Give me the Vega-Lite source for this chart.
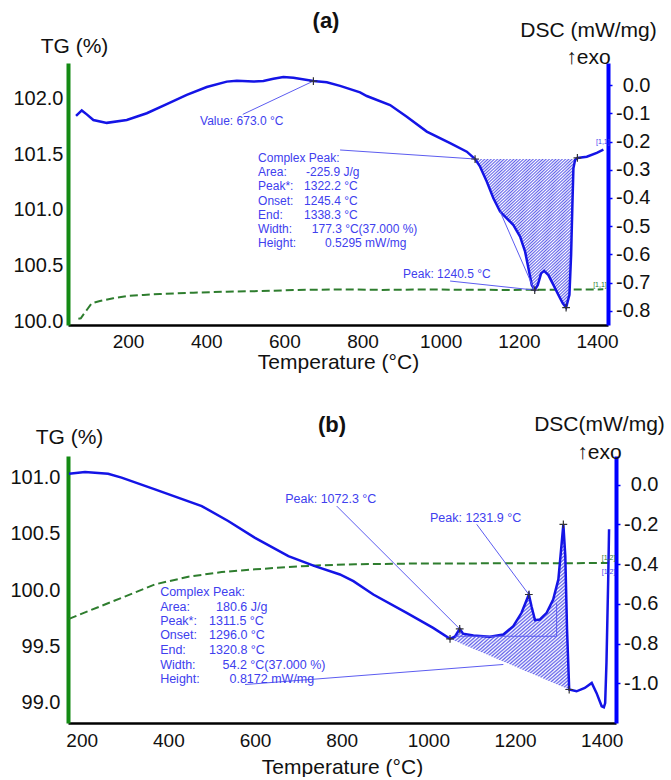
{
  "$schema": "https://vega.github.io/schema/vega-lite/v6.json",
  "padding": {"left": 9, "top": 10, "right": 0, "bottom": 0},
  "config": {"font": "Liberation Sans", "view": {"stroke": null}, "axis": {"grid": false}},
  "spacing": 41,
  "datasets": {
    "tgA": [
      {"T": 72.8, "v": 100.02}, {"T": 79, "v": 100.024}, {"T": 86, "v": 100.06}, {"T": 94.3, "v": 100.099}, {"T": 107, "v": 100.16},
      {"T": 128, "v": 100.18}, {"T": 162, "v": 100.205}, {"T": 196.7, "v": 100.225}, {"T": 240, "v": 100.235}, {"T": 281.9, "v": 100.243},
      {"T": 367.1, "v": 100.255}, {"T": 452.6, "v": 100.264}, {"T": 540, "v": 100.27}, {"T": 623, "v": 100.279}, {"T": 750.9, "v": 100.285},
      {"T": 850, "v": 100.28}, {"T": 950, "v": 100.284}, {"T": 1050, "v": 100.282}, {"T": 1150, "v": 100.28}, {"T": 1250, "v": 100.281},
      {"T": 1350, "v": 100.283}, {"T": 1416, "v": 100.285}
    ],
    "dscA": [
      {"T": 66.9, "v": -0.109}, {"T": 81.5, "v": -0.09}, {"T": 94.3, "v": -0.104}, {"T": 111.2, "v": -0.124}, {"T": 145.5, "v": -0.134},
      {"T": 196.7, "v": -0.124}, {"T": 247.9, "v": -0.1}, {"T": 299, "v": -0.068}, {"T": 350.2, "v": -0.035}, {"T": 401.4, "v": -0.007},
      {"T": 452.6, "v": 0.012}, {"T": 478.2, "v": 0.015}, {"T": 520.6, "v": 0.012}, {"T": 546.2, "v": 0.014}, {"T": 571.8, "v": 0.022},
      {"T": 597.4, "v": 0.028}, {"T": 623, "v": 0.026}, {"T": 674.2, "v": 0.014}, {"T": 708.5, "v": 0.01}, {"T": 742.5, "v": -0.003},
      {"T": 793.6, "v": -0.026}, {"T": 810.8, "v": -0.039}, {"T": 870.4, "v": -0.071}, {"T": 913.2, "v": -0.112}, {"T": 964.3, "v": -0.165},
      {"T": 1024, "v": -0.206}, {"T": 1066.7, "v": -0.236}, {"T": 1087.9, "v": -0.262}, {"T": 1100.7, "v": -0.289}, {"T": 1117.8, "v": -0.342},
      {"T": 1134.8, "v": -0.401}, {"T": 1151.9, "v": -0.448}, {"T": 1169, "v": -0.472}, {"T": 1186, "v": -0.496}, {"T": 1203.1, "v": -0.537},
      {"T": 1215.9, "v": -0.59}, {"T": 1224.4, "v": -0.649}, {"T": 1233, "v": -0.708}, {"T": 1240.5, "v": -0.726}, {"T": 1248.4, "v": -0.708},
      {"T": 1256.8, "v": -0.667}, {"T": 1264.5, "v": -0.658}, {"T": 1275.5, "v": -0.673}, {"T": 1288.3, "v": -0.708}, {"T": 1301.1, "v": -0.743},
      {"T": 1312.3, "v": -0.773}, {"T": 1320.8, "v": -0.788}, {"T": 1329.3, "v": -0.743}, {"T": 1333.6, "v": -0.602}, {"T": 1336.9, "v": -0.425},
      {"T": 1339.5, "v": -0.295}, {"T": 1343.8, "v": -0.265}, {"T": 1349.7, "v": -0.258}, {"T": 1373.7, "v": -0.254}, {"T": 1399.3, "v": -0.24},
      {"T": 1416.2, "v": -0.229}
    ],
    "hatchA": [
      {"T": 1087.9, "v": -0.262}, {"T": 1100.7, "v": -0.289}, {"T": 1117.8, "v": -0.342}, {"T": 1134.8, "v": -0.401}, {"T": 1151.9, "v": -0.448},
      {"T": 1169, "v": -0.472}, {"T": 1186, "v": -0.496}, {"T": 1203.1, "v": -0.537}, {"T": 1215.9, "v": -0.59}, {"T": 1224.4, "v": -0.649},
      {"T": 1233, "v": -0.708}, {"T": 1240.5, "v": -0.726}, {"T": 1248.4, "v": -0.708}, {"T": 1256.8, "v": -0.667}, {"T": 1264.5, "v": -0.658},
      {"T": 1275.5, "v": -0.673}, {"T": 1288.3, "v": -0.708}, {"T": 1301.1, "v": -0.743}, {"T": 1312.3, "v": -0.773}, {"T": 1320.8, "v": -0.788},
      {"T": 1329.3, "v": -0.743}, {"T": 1333.6, "v": -0.602}, {"T": 1336.9, "v": -0.425}, {"T": 1339.5, "v": -0.295}, {"T": 1343.8, "v": -0.265}
    ],
    "connA": [
      {"T": 493.5, "v": -0.104, "T2": 674.2, "v2": 0.014},
      {"T": 742.5, "v": -0.23, "T2": 1087.9, "v2": -0.262},
      {"T": 1151.9, "v": -0.448, "T2": 1239.7, "v2": -0.726},
      {"T": 1024, "v": -0.694, "T2": 1240.5, "v2": -0.726}
    ],
    "markA": [
      {"T": 674.2, "v": 0.014}, {"T": 1087.9, "v": -0.262}, {"T": 1349.7, "v": -0.258}, {"T": 1240.5, "v": -0.726}, {"T": 1320.8, "v": -0.788}
    ],
    "textA": [
      {"T": 384.2, "v": -0.126, "label": "Value: 673.0 °C"},
      {"T": 903.7, "v": -0.669, "label": "Peak: 1240.5 °C"},
      {"T": 532.7, "v": -0.2595, "label": "Complex Peak:"},
      {"T": 532.7, "v": -0.309, "label": "Area:"},
      {"T": 655.5, "v": -0.309, "label": "-225.9 J/g"},
      {"T": 532.7, "v": -0.3575, "label": "Peak*:"},
      {"T": 650.4, "v": -0.3575, "label": "1322.2 °C"},
      {"T": 532.7, "v": -0.4096, "label": "Onset:"},
      {"T": 650.4, "v": -0.4096, "label": "1245.4 °C"},
      {"T": 532.7, "v": -0.46, "label": "End:"},
      {"T": 650.4, "v": -0.46, "label": "1338.3 °C"},
      {"T": 532.7, "v": -0.5097, "label": "Width:"},
      {"T": 670.1, "v": -0.5097, "label": "177.3 °C(37.000 %)"},
      {"T": 532.7, "v": -0.5604, "label": "Height:"},
      {"T": 704.1, "v": -0.5604, "label": "0.5295 mW/mg"}
    ],
    "tagA": [
      {"T": 1397.5, "v": -0.202, "label": "[1,1]", "s": "dsc"},
      {"T": 1390, "v": -0.708, "label": "[1,1]", "s": "tg"}
    ],
    "tgB": [
      {"T": 170.7, "v": 99.743}, {"T": 215, "v": 99.812}, {"T": 292, "v": 99.93}, {"T": 369, "v": 100.05}, {"T": 446, "v": 100.118},
      {"T": 523, "v": 100.16}, {"T": 600, "v": 100.184}, {"T": 677, "v": 100.205}, {"T": 754, "v": 100.22}, {"T": 831, "v": 100.229},
      {"T": 950, "v": 100.235}, {"T": 1100, "v": 100.237}, {"T": 1250, "v": 100.238}, {"T": 1419, "v": 100.24}
    ],
    "dscB": [
      {"T": 170.7, "v": 0.055}, {"T": 207.7, "v": 0.063}, {"T": 261, "v": 0.055}, {"T": 292, "v": 0.035}, {"T": 369, "v": -0.024},
      {"T": 477, "v": -0.108}, {"T": 538, "v": -0.183}, {"T": 600, "v": -0.268}, {"T": 677, "v": -0.36}, {"T": 738, "v": -0.41},
      {"T": 796, "v": -0.452}, {"T": 827, "v": -0.486}, {"T": 873, "v": -0.553}, {"T": 950, "v": -0.645}, {"T": 1011, "v": -0.721},
      {"T": 1050, "v": -0.776}, {"T": 1062, "v": -0.763}, {"T": 1072.3, "v": -0.726}, {"T": 1080, "v": -0.75}, {"T": 1104, "v": -0.759},
      {"T": 1142, "v": -0.766}, {"T": 1173, "v": -0.754}, {"T": 1196, "v": -0.712}, {"T": 1215, "v": -0.645}, {"T": 1231.9, "v": -0.553},
      {"T": 1238, "v": -0.612}, {"T": 1246, "v": -0.682}, {"T": 1257, "v": -0.679}, {"T": 1273, "v": -0.645}, {"T": 1288, "v": -0.578},
      {"T": 1300, "v": -0.477}, {"T": 1307, "v": -0.309}, {"T": 1311.5, "v": -0.2}, {"T": 1316, "v": -0.36}, {"T": 1320, "v": -0.728},
      {"T": 1325, "v": -1.031}, {"T": 1342, "v": -1.04}, {"T": 1361, "v": -1.023}, {"T": 1377, "v": -0.998}, {"T": 1388, "v": -1.048},
      {"T": 1400, "v": -1.115}, {"T": 1405, "v": -1.12}, {"T": 1408, "v": -1.099}, {"T": 1411, "v": -0.897}, {"T": 1415, "v": -0.477},
      {"T": 1417, "v": -0.225}
    ],
    "hatchB": [
      {"T": 1050, "v": -0.776, "base": -0.776}, {"T": 1062, "v": -0.763, "base": -0.787}, {"T": 1072.3, "v": -0.726, "base": -0.797},
      {"T": 1080, "v": -0.75, "base": -0.804}, {"T": 1104, "v": -0.759, "base": -0.826}, {"T": 1142, "v": -0.766, "base": -0.861},
      {"T": 1173, "v": -0.754, "base": -0.89}, {"T": 1196, "v": -0.712, "base": -0.911}, {"T": 1215, "v": -0.645, "base": -0.929},
      {"T": 1231.9, "v": -0.553, "base": -0.945}, {"T": 1238, "v": -0.612, "base": -0.95}, {"T": 1246, "v": -0.682, "base": -0.958},
      {"T": 1257, "v": -0.679, "base": -0.968}, {"T": 1273, "v": -0.645, "base": -0.983}, {"T": 1288, "v": -0.578, "base": -0.997},
      {"T": 1300, "v": -0.477, "base": -1.008}, {"T": 1307, "v": -0.309, "base": -1.014}, {"T": 1311.5, "v": -0.2, "base": -1.018},
      {"T": 1316, "v": -0.36, "base": -1.023}, {"T": 1320, "v": -0.728, "base": -1.026}, {"T": 1325, "v": -1.031, "base": -1.031}
    ],
    "connB": [
      {"T": 788.5, "v": -0.108, "T2": 1072.3, "v2": -0.726},
      {"T": 1111.6, "v": -0.2, "T2": 1231.9, "v2": -0.553},
      {"T": 577, "v": -1.006, "T2": 1173, "v2": -0.905},
      {"T": 1062, "v": -0.763, "T2": 1296, "v2": -0.763},
      {"T": 1296, "v": -0.763, "T2": 1296, "v2": -0.595}
    ],
    "markB": [
      {"T": 1050, "v": -0.776}, {"T": 1072.3, "v": -0.726}, {"T": 1231.9, "v": -0.553}, {"T": 1311.5, "v": -0.2}, {"T": 1325, "v": -1.031}
    ],
    "textB": [
      {"T": 669.6, "v": -0.074, "label": "Peak: 1072.3 °C"},
      {"T": 1003.8, "v": -0.167, "label": "Peak: 1231.9 °C"},
      {"T": 381, "v": -0.5395, "label": "Complex Peak:"},
      {"T": 381, "v": -0.6166, "label": "Area:"},
      {"T": 510, "v": -0.6166, "label": "180.6 J/g"},
      {"T": 381, "v": -0.6872, "label": "Peak*:"},
      {"T": 494, "v": -0.6872, "label": "1311.5 °C"},
      {"T": 381, "v": -0.7592, "label": "Onset:"},
      {"T": 494, "v": -0.7592, "label": "1296.0 °C"},
      {"T": 381, "v": -0.8333, "label": "End:"},
      {"T": 494, "v": -0.8333, "label": "1320.8 °C"},
      {"T": 381, "v": -0.9088, "label": "Width:"},
      {"T": 525, "v": -0.9088, "label": "54.2 °C(37.000 %)"},
      {"T": 381, "v": -0.9778, "label": "Height:"},
      {"T": 541, "v": -0.9778, "label": "0.8172 mW/mg"}
    ],
    "tagB": [
      {"T": 1400, "v": -0.368, "label": "[1,2]", "s": "tg"},
      {"T": 1400, "v": -0.44, "label": "[1,2]", "s": "dsc"}
    ]
  },
  "vconcat": [
    {
      "width": 540,
      "height": 262,
      "title": {"text": "(a)", "frame": "group", "anchor": "middle", "fontSize": 22, "fontWeight": "bold", "dx": -12, "offset": -14, "color": "#111111"},
      "encoding": {
        "x": {"field": "T", "type": "quantitative", "scale": {"domain": [46.3, 1428], "nice": false, "zero": false},
          "axis": {"values": [200, 400, 600, 800, 1000, 1200, 1400], "format": "d", "title": "Temperature (°C)", "domainColor": "#000000", "domainWidth": 2.5, "ticks": false,
            "labelFontSize": 19, "labelColor": "#111111", "labelPadding": 7, "titleFontSize": 21, "titleFontWeight": "normal", "titleColor": "#111111", "titlePadding": 0}}
      },
      "layer": [
        {
          "data": {"name": "tgA"},
          "mark": {"type": "line", "color": "#2e7d2e", "strokeWidth": 2, "strokeDash": [8, 4]},
          "encoding": {
            "y": {"field": "v", "type": "quantitative", "scale": {"domain": [99.964, 102.324], "nice": false, "zero": false},
              "axis": {"orient": "left", "values": [100, 100.5, 101, 101.5, 102], "format": ".1f", "domainColor": "#138a13", "domainWidth": 4, "ticks": false,
                "labelPadding": 5, "labelFontSize": 20, "labelColor": "#111111", "title": "TG (%)", "titleAngle": 0, "titleAlign": "center", "titleBaseline": "top",
                "titleX": 6, "titleY": -28, "titleFontSize": 21, "titleFontWeight": "normal", "titleColor": "#111111"}}
          }
        },
        {
          "encoding": {
            "y": {"field": "v", "type": "quantitative", "scale": {"domain": [-0.8496, 0.0779], "nice": false, "zero": false},
              "axis": {"orient": "right", "values": [0, -0.1, -0.2, -0.3, -0.4, -0.5, -0.6, -0.7, -0.8], "labelExpr": "(datum.value < -0.0001 ? '-' : '') + format(abs(datum.value), '.1f')",
                "domainColor": "#0000ff", "domainWidth": 4, "ticks": true, "tickColor": "#0000ff", "tickSize": 4, "tickWidth": 1.5, "labelAlign": "right", "labelPadding": 38, "labelFontSize": 20, "labelColor": "#111111",
                "title": ["DSC (mW/mg)", "↑exo"], "titleAngle": 0, "titleAlign": "center", "titleBaseline": "top", "titleX": -20, "titleY": -44, "titleLineHeight": 27,
                "titleFontSize": 21, "titleFontWeight": "normal", "titleColor": "#111111"}}
          },
          "layer": [
            {
              "data": {"name": "hatchA"},
              "mark": {"type": "area", "opacity": 1, "color": {"gradient": "linear", "x1": 0, "y1": 0, "x2": 0.735, "y2": 1.167, "stops": [
                {"offset": 0, "color": "#6262ea"}, {"offset": 0.00625, "color": "#ffffff"}, {"offset": 0.0125, "color": "#6262ea"}, {"offset": 0.01875, "color": "#ffffff"},
                {"offset": 0.025, "color": "#6262ea"}, {"offset": 0.03125, "color": "#ffffff"}, {"offset": 0.0375, "color": "#6262ea"}, {"offset": 0.04375, "color": "#ffffff"},
                {"offset": 0.05, "color": "#6262ea"}, {"offset": 0.05625, "color": "#ffffff"}, {"offset": 0.0625, "color": "#6262ea"}, {"offset": 0.06875, "color": "#ffffff"},
                {"offset": 0.075, "color": "#6262ea"}, {"offset": 0.08125, "color": "#ffffff"}, {"offset": 0.0875, "color": "#6262ea"}, {"offset": 0.09375, "color": "#ffffff"},
                {"offset": 0.1, "color": "#6262ea"}, {"offset": 0.10625, "color": "#ffffff"}, {"offset": 0.1125, "color": "#6262ea"}, {"offset": 0.11875, "color": "#ffffff"},
                {"offset": 0.125, "color": "#6262ea"}, {"offset": 0.13125, "color": "#ffffff"}, {"offset": 0.1375, "color": "#6262ea"}, {"offset": 0.14375, "color": "#ffffff"},
                {"offset": 0.15, "color": "#6262ea"}, {"offset": 0.15625, "color": "#ffffff"}, {"offset": 0.1625, "color": "#6262ea"}, {"offset": 0.16875, "color": "#ffffff"},
                {"offset": 0.175, "color": "#6262ea"}, {"offset": 0.18125, "color": "#ffffff"}, {"offset": 0.1875, "color": "#6262ea"}, {"offset": 0.19375, "color": "#ffffff"},
                {"offset": 0.2, "color": "#6262ea"}, {"offset": 0.20625, "color": "#ffffff"}, {"offset": 0.2125, "color": "#6262ea"}, {"offset": 0.21875, "color": "#ffffff"},
                {"offset": 0.225, "color": "#6262ea"}, {"offset": 0.23125, "color": "#ffffff"}, {"offset": 0.2375, "color": "#6262ea"}, {"offset": 0.24375, "color": "#ffffff"},
                {"offset": 0.25, "color": "#6262ea"}, {"offset": 0.25625, "color": "#ffffff"}, {"offset": 0.2625, "color": "#6262ea"}, {"offset": 0.26875, "color": "#ffffff"},
                {"offset": 0.275, "color": "#6262ea"}, {"offset": 0.28125, "color": "#ffffff"}, {"offset": 0.2875, "color": "#6262ea"}, {"offset": 0.29375, "color": "#ffffff"},
                {"offset": 0.3, "color": "#6262ea"}, {"offset": 0.30625, "color": "#ffffff"}, {"offset": 0.3125, "color": "#6262ea"}, {"offset": 0.31875, "color": "#ffffff"},
                {"offset": 0.325, "color": "#6262ea"}, {"offset": 0.33125, "color": "#ffffff"}, {"offset": 0.3375, "color": "#6262ea"}, {"offset": 0.34375, "color": "#ffffff"},
                {"offset": 0.35, "color": "#6262ea"}, {"offset": 0.35625, "color": "#ffffff"}, {"offset": 0.3625, "color": "#6262ea"}, {"offset": 0.36875, "color": "#ffffff"},
                {"offset": 0.375, "color": "#6262ea"}, {"offset": 0.38125, "color": "#ffffff"}, {"offset": 0.3875, "color": "#6262ea"}, {"offset": 0.39375, "color": "#ffffff"},
                {"offset": 0.4, "color": "#6262ea"}, {"offset": 0.40625, "color": "#ffffff"}, {"offset": 0.4125, "color": "#6262ea"}, {"offset": 0.41875, "color": "#ffffff"},
                {"offset": 0.425, "color": "#6262ea"}, {"offset": 0.43125, "color": "#ffffff"}, {"offset": 0.4375, "color": "#6262ea"}, {"offset": 0.44375, "color": "#ffffff"},
                {"offset": 0.45, "color": "#6262ea"}, {"offset": 0.45625, "color": "#ffffff"}, {"offset": 0.4625, "color": "#6262ea"}, {"offset": 0.46875, "color": "#ffffff"},
                {"offset": 0.475, "color": "#6262ea"}, {"offset": 0.48125, "color": "#ffffff"}, {"offset": 0.4875, "color": "#6262ea"}, {"offset": 0.49375, "color": "#ffffff"},
                {"offset": 0.5, "color": "#6262ea"}, {"offset": 0.50625, "color": "#ffffff"}, {"offset": 0.5125, "color": "#6262ea"}, {"offset": 0.51875, "color": "#ffffff"},
                {"offset": 0.525, "color": "#6262ea"}, {"offset": 0.53125, "color": "#ffffff"}, {"offset": 0.5375, "color": "#6262ea"}, {"offset": 0.54375, "color": "#ffffff"},
                {"offset": 0.55, "color": "#6262ea"}, {"offset": 0.55625, "color": "#ffffff"}, {"offset": 0.5625, "color": "#6262ea"}, {"offset": 0.56875, "color": "#ffffff"},
                {"offset": 0.575, "color": "#6262ea"}, {"offset": 0.58125, "color": "#ffffff"}, {"offset": 0.5875, "color": "#6262ea"}, {"offset": 0.59375, "color": "#ffffff"},
                {"offset": 0.6, "color": "#6262ea"}, {"offset": 0.60625, "color": "#ffffff"}, {"offset": 0.6125, "color": "#6262ea"}, {"offset": 0.61875, "color": "#ffffff"},
                {"offset": 0.625, "color": "#6262ea"}, {"offset": 0.63125, "color": "#ffffff"}, {"offset": 0.6375, "color": "#6262ea"}, {"offset": 0.64375, "color": "#ffffff"},
                {"offset": 0.65, "color": "#6262ea"}, {"offset": 0.65625, "color": "#ffffff"}, {"offset": 0.6625, "color": "#6262ea"}, {"offset": 0.66875, "color": "#ffffff"},
                {"offset": 0.675, "color": "#6262ea"}, {"offset": 0.68125, "color": "#ffffff"}, {"offset": 0.6875, "color": "#6262ea"}, {"offset": 0.69375, "color": "#ffffff"},
                {"offset": 0.7, "color": "#6262ea"}, {"offset": 0.70625, "color": "#ffffff"}, {"offset": 0.7125, "color": "#6262ea"}, {"offset": 0.71875, "color": "#ffffff"},
                {"offset": 0.725, "color": "#6262ea"}, {"offset": 0.73125, "color": "#ffffff"}, {"offset": 0.7375, "color": "#6262ea"}, {"offset": 0.74375, "color": "#ffffff"},
                {"offset": 0.75, "color": "#6262ea"}, {"offset": 0.75625, "color": "#ffffff"}, {"offset": 0.7625, "color": "#6262ea"}, {"offset": 0.76875, "color": "#ffffff"},
                {"offset": 0.775, "color": "#6262ea"}, {"offset": 0.78125, "color": "#ffffff"}, {"offset": 0.7875, "color": "#6262ea"}, {"offset": 0.79375, "color": "#ffffff"},
                {"offset": 0.8, "color": "#6262ea"}, {"offset": 0.80625, "color": "#ffffff"}, {"offset": 0.8125, "color": "#6262ea"}, {"offset": 0.81875, "color": "#ffffff"},
                {"offset": 0.825, "color": "#6262ea"}, {"offset": 0.83125, "color": "#ffffff"}, {"offset": 0.8375, "color": "#6262ea"}, {"offset": 0.84375, "color": "#ffffff"},
                {"offset": 0.85, "color": "#6262ea"}, {"offset": 0.85625, "color": "#ffffff"}, {"offset": 0.8625, "color": "#6262ea"}, {"offset": 0.86875, "color": "#ffffff"},
                {"offset": 0.875, "color": "#6262ea"}, {"offset": 0.88125, "color": "#ffffff"}, {"offset": 0.8875, "color": "#6262ea"}, {"offset": 0.89375, "color": "#ffffff"},
                {"offset": 0.9, "color": "#6262ea"}, {"offset": 0.90625, "color": "#ffffff"}, {"offset": 0.9125, "color": "#6262ea"}, {"offset": 0.91875, "color": "#ffffff"},
                {"offset": 0.925, "color": "#6262ea"}, {"offset": 0.93125, "color": "#ffffff"}, {"offset": 0.9375, "color": "#6262ea"}, {"offset": 0.94375, "color": "#ffffff"},
                {"offset": 0.95, "color": "#6262ea"}, {"offset": 0.95625, "color": "#ffffff"}, {"offset": 0.9625, "color": "#6262ea"}, {"offset": 0.96875, "color": "#ffffff"},
                {"offset": 0.975, "color": "#6262ea"}, {"offset": 0.98125, "color": "#ffffff"}, {"offset": 0.9875, "color": "#6262ea"}, {"offset": 0.99375, "color": "#ffffff"},
                {"offset": 1, "color": "#6262ea"}
              ]}},
              "encoding": {"y2": {"datum": -0.262}}
            },
            {
              "data": {"name": "dscA"},
              "mark": {"type": "line", "color": "#1414e6", "strokeWidth": 2.5}
            },
            {
              "data": {"name": "connA"},
              "mark": {"type": "rule", "color": "#5c5cf0", "strokeWidth": 1},
              "encoding": {"x2": {"field": "T2"}, "y2": {"field": "v2"}}
            },
            {
              "data": {"name": "markA"},
              "mark": {"type": "point", "shape": "M-1,0H1M0,-1V1", "size": 60, "filled": false, "stroke": "#333333", "strokeWidth": 1.2, "opacity": 1}
            },
            {
              "data": {"name": "textA"},
              "mark": {"type": "text", "align": "left", "baseline": "middle", "fontSize": 12, "color": "#4040ee"},
              "encoding": {"text": {"field": "label"}}
            },
            {
              "data": {"name": "tagA"},
              "mark": {"type": "text", "align": "left", "baseline": "middle", "fontSize": 7},
              "encoding": {
                "text": {"field": "label"},
                "color": {"field": "s", "type": "nominal", "scale": {"domain": ["dsc", "tg"], "range": ["#4040ee", "#2e7d2e"]}, "legend": null}
              }
            }
          ]
        }
      ],
      "resolve": {"scale": {"y": "independent"}}
    },
    {
      "width": 548,
      "height": 267,
      "title": {"text": "(b)", "frame": "group", "anchor": "middle", "fontSize": 22, "fontWeight": "bold", "dx": -10, "offset": -24, "color": "#111111"},
      "encoding": {
        "x": {"field": "T", "type": "quantitative", "scale": {"domain": [168.4, 1433], "nice": false, "zero": false},
          "axis": {"values": [200, 400, 600, 800, 1000, 1200, 1400], "format": "d", "title": "Temperature (°C)", "domainColor": "#000000", "domainWidth": 2.5, "ticks": false,
            "labelFontSize": 19, "labelColor": "#111111", "labelPadding": 8, "titleFontSize": 21, "titleFontWeight": "normal", "titleColor": "#111111", "titlePadding": 6}}
      },
      "layer": [
        {
          "data": {"name": "tgB"},
          "mark": {"type": "line", "color": "#2e7d2e", "strokeWidth": 2, "strokeDash": [8, 4]},
          "encoding": {
            "y": {"field": "v", "type": "quantitative", "scale": {"domain": [98.816, 101.193], "nice": false, "zero": false},
              "axis": {"orient": "left", "values": [99, 99.5, 100, 100.5, 101], "format": ".1f", "domainColor": "#138a13", "domainWidth": 4, "ticks": false,
                "labelPadding": 8, "labelFontSize": 20, "labelColor": "#111111", "title": "TG (%)", "titleAngle": 0, "titleAlign": "center", "titleBaseline": "top",
                "titleX": 1, "titleY": -30, "titleFontSize": 21, "titleFontWeight": "normal", "titleColor": "#111111"}}
          }
        },
        {
          "encoding": {
            "y": {"field": "v", "type": "quantitative", "scale": {"domain": [-1.1995, 0.144], "nice": false, "zero": false},
              "axis": {"orient": "right", "values": [0, -0.2, -0.4, -0.6, -0.8, -1.0, -1.2], "labelExpr": "(datum.value < -0.0001 ? '-' : '') + format(abs(datum.value), '.1f')",
                "domainColor": "#0000ff", "domainWidth": 4, "ticks": true, "tickColor": "#0000ff", "tickSize": 4, "tickWidth": 1.5, "labelAlign": "right", "labelPadding": 38, "labelFontSize": 20, "labelColor": "#111111",
                "title": ["DSC(mW/mg)", "↑exo"], "titleAngle": 0, "titleAlign": "center", "titleBaseline": "top", "titleX": -17, "titleY": -43, "titleLineHeight": 28,
                "titleFontSize": 21, "titleFontWeight": "normal", "titleColor": "#111111"}}
          },
          "layer": [
            {
              "data": {"name": "hatchB"},
              "mark": {"type": "area", "opacity": 1, "color": {"gradient": "linear", "x1": 0, "y1": 0, "x2": 0.735, "y2": 1.167, "stops": [
                {"offset": 0, "color": "#6262ea"}, {"offset": 0.00625, "color": "#ffffff"}, {"offset": 0.0125, "color": "#6262ea"}, {"offset": 0.01875, "color": "#ffffff"},
                {"offset": 0.025, "color": "#6262ea"}, {"offset": 0.03125, "color": "#ffffff"}, {"offset": 0.0375, "color": "#6262ea"}, {"offset": 0.04375, "color": "#ffffff"},
                {"offset": 0.05, "color": "#6262ea"}, {"offset": 0.05625, "color": "#ffffff"}, {"offset": 0.0625, "color": "#6262ea"}, {"offset": 0.06875, "color": "#ffffff"},
                {"offset": 0.075, "color": "#6262ea"}, {"offset": 0.08125, "color": "#ffffff"}, {"offset": 0.0875, "color": "#6262ea"}, {"offset": 0.09375, "color": "#ffffff"},
                {"offset": 0.1, "color": "#6262ea"}, {"offset": 0.10625, "color": "#ffffff"}, {"offset": 0.1125, "color": "#6262ea"}, {"offset": 0.11875, "color": "#ffffff"},
                {"offset": 0.125, "color": "#6262ea"}, {"offset": 0.13125, "color": "#ffffff"}, {"offset": 0.1375, "color": "#6262ea"}, {"offset": 0.14375, "color": "#ffffff"},
                {"offset": 0.15, "color": "#6262ea"}, {"offset": 0.15625, "color": "#ffffff"}, {"offset": 0.1625, "color": "#6262ea"}, {"offset": 0.16875, "color": "#ffffff"},
                {"offset": 0.175, "color": "#6262ea"}, {"offset": 0.18125, "color": "#ffffff"}, {"offset": 0.1875, "color": "#6262ea"}, {"offset": 0.19375, "color": "#ffffff"},
                {"offset": 0.2, "color": "#6262ea"}, {"offset": 0.20625, "color": "#ffffff"}, {"offset": 0.2125, "color": "#6262ea"}, {"offset": 0.21875, "color": "#ffffff"},
                {"offset": 0.225, "color": "#6262ea"}, {"offset": 0.23125, "color": "#ffffff"}, {"offset": 0.2375, "color": "#6262ea"}, {"offset": 0.24375, "color": "#ffffff"},
                {"offset": 0.25, "color": "#6262ea"}, {"offset": 0.25625, "color": "#ffffff"}, {"offset": 0.2625, "color": "#6262ea"}, {"offset": 0.26875, "color": "#ffffff"},
                {"offset": 0.275, "color": "#6262ea"}, {"offset": 0.28125, "color": "#ffffff"}, {"offset": 0.2875, "color": "#6262ea"}, {"offset": 0.29375, "color": "#ffffff"},
                {"offset": 0.3, "color": "#6262ea"}, {"offset": 0.30625, "color": "#ffffff"}, {"offset": 0.3125, "color": "#6262ea"}, {"offset": 0.31875, "color": "#ffffff"},
                {"offset": 0.325, "color": "#6262ea"}, {"offset": 0.33125, "color": "#ffffff"}, {"offset": 0.3375, "color": "#6262ea"}, {"offset": 0.34375, "color": "#ffffff"},
                {"offset": 0.35, "color": "#6262ea"}, {"offset": 0.35625, "color": "#ffffff"}, {"offset": 0.3625, "color": "#6262ea"}, {"offset": 0.36875, "color": "#ffffff"},
                {"offset": 0.375, "color": "#6262ea"}, {"offset": 0.38125, "color": "#ffffff"}, {"offset": 0.3875, "color": "#6262ea"}, {"offset": 0.39375, "color": "#ffffff"},
                {"offset": 0.4, "color": "#6262ea"}, {"offset": 0.40625, "color": "#ffffff"}, {"offset": 0.4125, "color": "#6262ea"}, {"offset": 0.41875, "color": "#ffffff"},
                {"offset": 0.425, "color": "#6262ea"}, {"offset": 0.43125, "color": "#ffffff"}, {"offset": 0.4375, "color": "#6262ea"}, {"offset": 0.44375, "color": "#ffffff"},
                {"offset": 0.45, "color": "#6262ea"}, {"offset": 0.45625, "color": "#ffffff"}, {"offset": 0.4625, "color": "#6262ea"}, {"offset": 0.46875, "color": "#ffffff"},
                {"offset": 0.475, "color": "#6262ea"}, {"offset": 0.48125, "color": "#ffffff"}, {"offset": 0.4875, "color": "#6262ea"}, {"offset": 0.49375, "color": "#ffffff"},
                {"offset": 0.5, "color": "#6262ea"}, {"offset": 0.50625, "color": "#ffffff"}, {"offset": 0.5125, "color": "#6262ea"}, {"offset": 0.51875, "color": "#ffffff"},
                {"offset": 0.525, "color": "#6262ea"}, {"offset": 0.53125, "color": "#ffffff"}, {"offset": 0.5375, "color": "#6262ea"}, {"offset": 0.54375, "color": "#ffffff"},
                {"offset": 0.55, "color": "#6262ea"}, {"offset": 0.55625, "color": "#ffffff"}, {"offset": 0.5625, "color": "#6262ea"}, {"offset": 0.56875, "color": "#ffffff"},
                {"offset": 0.575, "color": "#6262ea"}, {"offset": 0.58125, "color": "#ffffff"}, {"offset": 0.5875, "color": "#6262ea"}, {"offset": 0.59375, "color": "#ffffff"},
                {"offset": 0.6, "color": "#6262ea"}, {"offset": 0.60625, "color": "#ffffff"}, {"offset": 0.6125, "color": "#6262ea"}, {"offset": 0.61875, "color": "#ffffff"},
                {"offset": 0.625, "color": "#6262ea"}, {"offset": 0.63125, "color": "#ffffff"}, {"offset": 0.6375, "color": "#6262ea"}, {"offset": 0.64375, "color": "#ffffff"},
                {"offset": 0.65, "color": "#6262ea"}, {"offset": 0.65625, "color": "#ffffff"}, {"offset": 0.6625, "color": "#6262ea"}, {"offset": 0.66875, "color": "#ffffff"},
                {"offset": 0.675, "color": "#6262ea"}, {"offset": 0.68125, "color": "#ffffff"}, {"offset": 0.6875, "color": "#6262ea"}, {"offset": 0.69375, "color": "#ffffff"},
                {"offset": 0.7, "color": "#6262ea"}, {"offset": 0.70625, "color": "#ffffff"}, {"offset": 0.7125, "color": "#6262ea"}, {"offset": 0.71875, "color": "#ffffff"},
                {"offset": 0.725, "color": "#6262ea"}, {"offset": 0.73125, "color": "#ffffff"}, {"offset": 0.7375, "color": "#6262ea"}, {"offset": 0.74375, "color": "#ffffff"},
                {"offset": 0.75, "color": "#6262ea"}, {"offset": 0.75625, "color": "#ffffff"}, {"offset": 0.7625, "color": "#6262ea"}, {"offset": 0.76875, "color": "#ffffff"},
                {"offset": 0.775, "color": "#6262ea"}, {"offset": 0.78125, "color": "#ffffff"}, {"offset": 0.7875, "color": "#6262ea"}, {"offset": 0.79375, "color": "#ffffff"},
                {"offset": 0.8, "color": "#6262ea"}, {"offset": 0.80625, "color": "#ffffff"}, {"offset": 0.8125, "color": "#6262ea"}, {"offset": 0.81875, "color": "#ffffff"},
                {"offset": 0.825, "color": "#6262ea"}, {"offset": 0.83125, "color": "#ffffff"}, {"offset": 0.8375, "color": "#6262ea"}, {"offset": 0.84375, "color": "#ffffff"},
                {"offset": 0.85, "color": "#6262ea"}, {"offset": 0.85625, "color": "#ffffff"}, {"offset": 0.8625, "color": "#6262ea"}, {"offset": 0.86875, "color": "#ffffff"},
                {"offset": 0.875, "color": "#6262ea"}, {"offset": 0.88125, "color": "#ffffff"}, {"offset": 0.8875, "color": "#6262ea"}, {"offset": 0.89375, "color": "#ffffff"},
                {"offset": 0.9, "color": "#6262ea"}, {"offset": 0.90625, "color": "#ffffff"}, {"offset": 0.9125, "color": "#6262ea"}, {"offset": 0.91875, "color": "#ffffff"},
                {"offset": 0.925, "color": "#6262ea"}, {"offset": 0.93125, "color": "#ffffff"}, {"offset": 0.9375, "color": "#6262ea"}, {"offset": 0.94375, "color": "#ffffff"},
                {"offset": 0.95, "color": "#6262ea"}, {"offset": 0.95625, "color": "#ffffff"}, {"offset": 0.9625, "color": "#6262ea"}, {"offset": 0.96875, "color": "#ffffff"},
                {"offset": 0.975, "color": "#6262ea"}, {"offset": 0.98125, "color": "#ffffff"}, {"offset": 0.9875, "color": "#6262ea"}, {"offset": 0.99375, "color": "#ffffff"},
                {"offset": 1, "color": "#6262ea"}
              ]}},
              "encoding": {"y2": {"field": "base"}}
            },
            {
              "data": {"name": "dscB"},
              "mark": {"type": "line", "color": "#1414e6", "strokeWidth": 2.5}
            },
            {
              "data": {"name": "connB"},
              "mark": {"type": "rule", "color": "#5c5cf0", "strokeWidth": 1},
              "encoding": {"x2": {"field": "T2"}, "y2": {"field": "v2"}}
            },
            {
              "data": {"name": "markB"},
              "mark": {"type": "point", "shape": "M-1,0H1M0,-1V1", "size": 60, "filled": false, "stroke": "#333333", "strokeWidth": 1.2, "opacity": 1}
            },
            {
              "data": {"name": "textB"},
              "mark": {"type": "text", "align": "left", "baseline": "middle", "fontSize": 12.5, "color": "#4040ee"},
              "encoding": {"text": {"field": "label"}}
            },
            {
              "data": {"name": "tagB"},
              "mark": {"type": "text", "align": "left", "baseline": "middle", "fontSize": 7},
              "encoding": {
                "text": {"field": "label"},
                "color": {"field": "s", "type": "nominal", "scale": {"domain": ["dsc", "tg"], "range": ["#4040ee", "#2e7d2e"]}, "legend": null}
              }
            }
          ]
        }
      ],
      "resolve": {"scale": {"y": "independent"}}
    }
  ]
}
